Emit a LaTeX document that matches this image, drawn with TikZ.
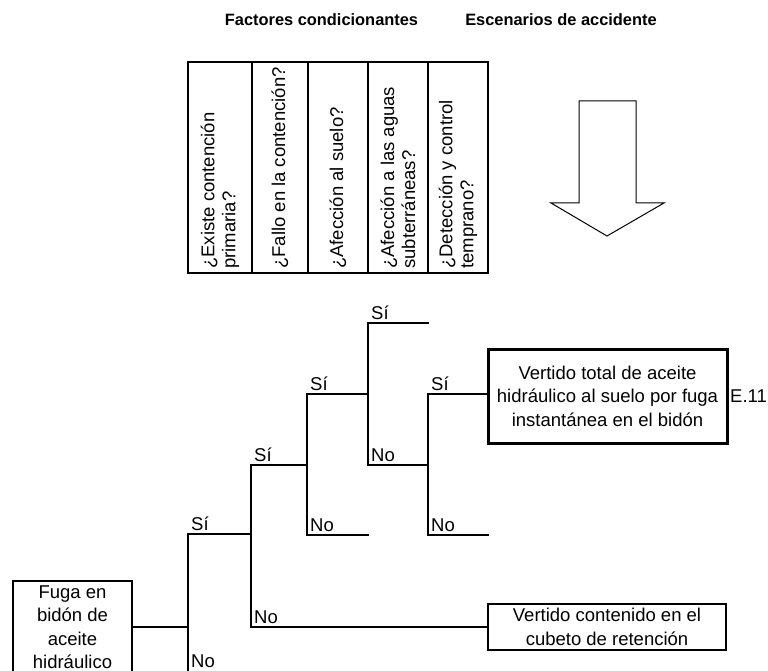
\documentclass[tikz,border=0pt]{standalone}
\usepackage{fontspec}
\setmainfont{Liberation Sans}
\begin{document}
\begin{tikzpicture}[x=1pt,y=-1pt,
  txt/.style={font=\fontsize{18.5}{23.5}\selectfont},
  title/.style={font=\fontsize{16.4}{20}\selectfont\bfseries, inner sep=0pt},
  branch/.style={line width=2pt, line cap=rect},
  grid/.style={line width=2pt},
  qtext/.style={txt, font=\fontsize{18.5}{21}\selectfont, rotate=90, anchor=west, align=left, inner sep=2pt},
  lbl/.style={txt, anchor=base west, inner sep=0pt},
  startbox/.style={txt, draw, line width=2pt, align=center, minimum width=119pt, minimum height=92pt, inner sep=0pt},
  finalbox/.style={txt, draw, align=center, inner sep=0pt},
  arrowshape/.style={line width=1pt, line join=miter}
]
\useasboundingbox (0,0) rectangle (768,671);

% column titles
\node[title] (t1) at (321.5,20) {Factores condicionantes};
\node[title] (t2) at (561,20) {Escenarios de accidente};

% table of conditioning factors
\draw[grid] (188,62) rectangle (488,273);
\foreach \xx in {252,308,368,428} \draw[grid] (\xx,62) -- (\xx,273);
\node[qtext] (q1) at (220,271) {¿Existe contención\\primaria?};
\node[qtext] (q2) at (280,271) {¿Fallo en la contención?};
\node[qtext] (q3) at (338,271) {¿Afección al suelo?};
\node[qtext] (q4) at (398,271) {¿Afección a las aguas\\subterráneas?};
\node[qtext] (q5) at (458,271) {¿Detección y control\\temprano?};

% big downward arrow
\draw[arrowshape] (579,101) -- (636,101) -- (636,203) -- (664,203) -- (607,236)
  -- (551,203) -- (579,203) -- cycle;

% initiating event and outcomes
\node[startbox] (start) at (72.5,627) {Fuga en\\bidón de\\aceite\\hidráulico};
\node[finalbox, line width=3pt, minimum width=239pt, minimum height=94pt] (e11) at (607.5,396)
  {Vertido total de aceite\\hidráulico al suelo por fuga\\instantánea en el bidón};
\node[finalbox, line width=1.6pt, minimum width=238pt, minimum height=46pt] (cub) at (607,627)
  {Vertido contenido en el\\cubeto de retención};
\node[txt, anchor=west, inner sep=0pt] (e11lbl) at ([xshift=1.5pt]e11.east) {E.11};

% branch points of the tree
\coordinate (a) at (188,627);
\coordinate (aS) at (188,534);
\coordinate (aN) at (188,672);
\coordinate (bS) at (251,465);
\coordinate (bM) at (251,534);
\coordinate (bN) at (251,627);
\coordinate (cS) at (307,394);
\coordinate (cM) at (307,465);
\coordinate (cN) at (307,535);
\coordinate (cNe) at (368,535);
\coordinate (dS) at (368,323);
\coordinate (dM) at (368,394);
\coordinate (dN) at (368,465);
\coordinate (dSe) at (428,323);
\coordinate (eS) at (428,394);
\coordinate (eM) at (428,465);
\coordinate (eN) at (428,535);
\coordinate (eNe) at (488,535);

% tree branches
\draw[branch] (start.east) -- (a);
\draw[branch] (aS) -- (aN);
\draw[branch] (aS) -- (bM);
\draw[branch] (bS) -- (bN);
\draw[branch] (bN) -- (cub.west);
\draw[branch] (bS) -- (cM);
\draw[branch] (cS) -- (cN);
\draw[branch] (cN) -- (cNe);
\draw[branch] (cS) -- (dM);
\draw[branch] (dS) -- (dN);
\draw[branch] (dS) -- (dSe);
\draw[branch] (dN) -- (eM);
\draw[branch] (eS) -- (eN);
\draw[branch] (eS) -- (eS -| e11.west);
\draw[branch] (eN) -- (eNe);

% branch labels
\node[lbl] (l1) at ([xshift=3pt,yshift=4pt]aS) {Sí};
\node[lbl] (l2) at ([xshift=3pt,yshift=5pt]aN) {No};
\node[lbl] (l3) at ([xshift=3pt,yshift=4pt]bS) {Sí};
\node[lbl] (l4) at ([xshift=3pt,yshift=4pt]bN) {No};
\node[lbl] (l5) at ([xshift=3pt,yshift=4pt]cS) {Sí};
\node[lbl] (l6) at ([xshift=3pt,yshift=4pt]cN) {No};
\node[lbl] (l7) at ([xshift=3pt,yshift=4pt]dS) {Sí};
\node[lbl] (l8) at ([xshift=3pt,yshift=4pt]dN) {No};
\node[lbl] (l9) at ([xshift=3pt,yshift=4pt]eS) {Sí};
\node[lbl] (l10) at ([xshift=3pt,yshift=4pt]eN) {No};
\end{tikzpicture}
\end{document}
